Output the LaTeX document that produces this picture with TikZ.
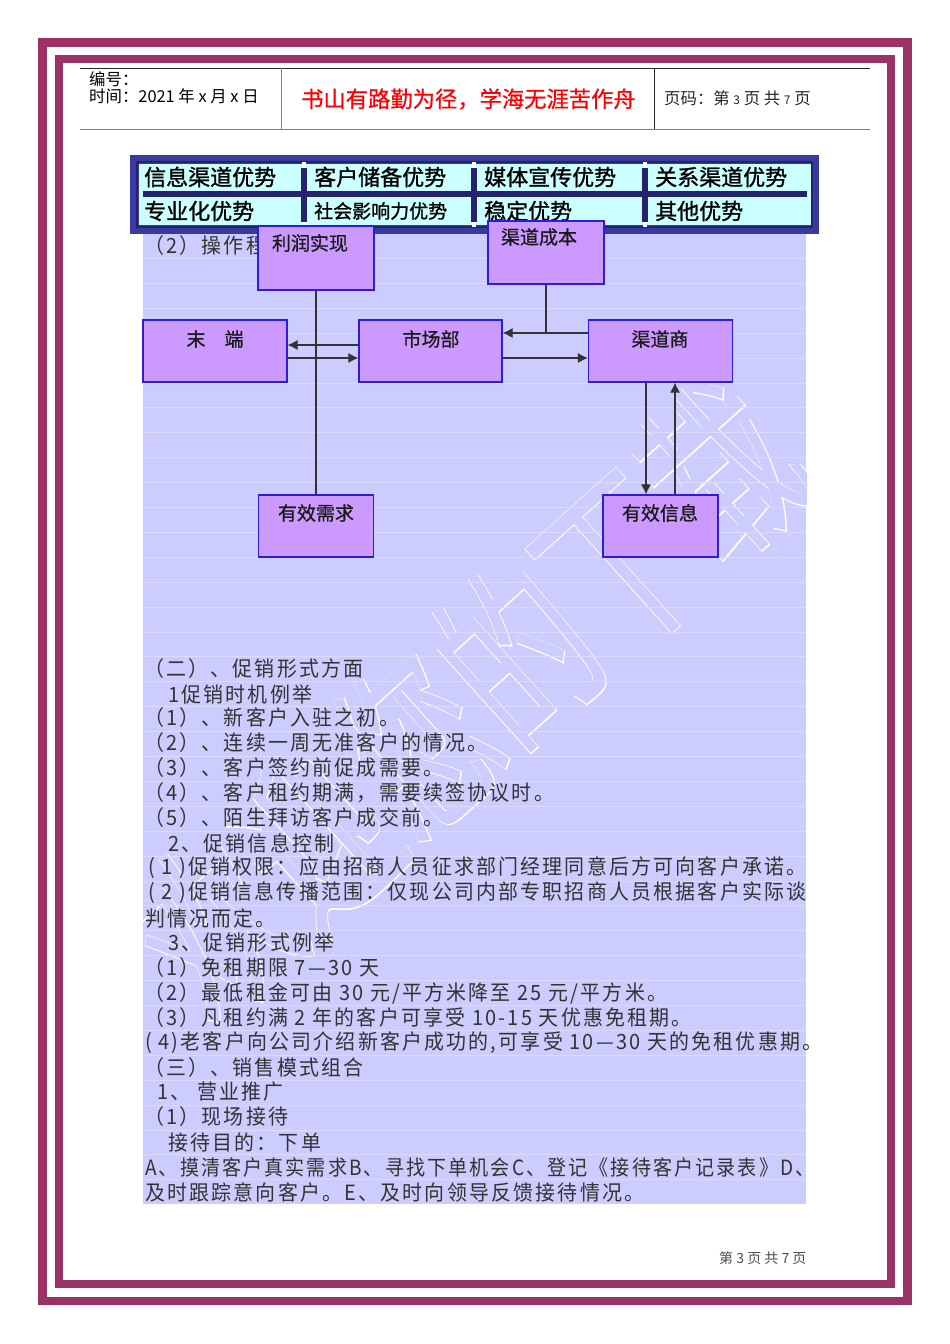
\documentclass[tikz,border=0pt]{standalone}
\usepackage{fontspec}
\setmainfont{Liberation Sans}
\newfontfamily\cjk{Noto Sans CJK SC}
\newfontfamily\cjkbody[FakeStretch=0.95,LetterSpace=10.5]{Noto Sans CJK SC}
\newfontfamily\cjkhead[FakeBold=1.2]{Noto Sans CJK SC}
\newfontfamily\cjklabel[FakeBold=0.6]{Noto Sans CJK SC}
\newfontfamily\cjkmark[FakeStretch=0.72]{Noto Sans CJK SC}
\newfontfamily\cjkmarkrim[FakeStretch=0.72,FakeBold=0.8]{Noto Sans CJK SC}
\usepackage{tikz}
\usetikzlibrary{arrows.meta, calc}
\definecolor{frameplum}{HTML}{993366}
\definecolor{pagelav}{HTML}{CCCCFF}
\definecolor{boxlilac}{HTML}{CC99FF}
\definecolor{boxblue}{HTML}{2A1FD8}
\definecolor{tablenavy}{HTML}{3A3A9E}
\definecolor{tabledark}{HTML}{24246E}
\definecolor{cellcyan}{HTML}{CCFFFF}
\tikzstyle{flowbox} = [rectangle, draw=boxblue, fill=boxlilac, line width=1.2pt, inner sep=0pt]
\tikzstyle{boxlabel} = [font=\cjklabel\fontsize{19}{19}\selectfont, text=black!90]
\tikzstyle{bodyline} = [anchor=west, inner sep=0pt, font=\cjkbody\fontsize{21}{21}\selectfont, text=black!80]
\tikzstyle{headcell} = [anchor=west, inner sep=0pt, font=\cjkhead\fontsize{22}{22}\selectfont]
\tikzstyle{flowline} = [draw=black!80, line width=1.1pt]
\tikzstyle{flowarrow} = [flowline, -{Latex[length=10pt,width=10pt]}]
\newcommand{\pagedigit}[1]{{\fontsize{12}{12}\selectfont #1}}
\begin{document}
\begin{tikzpicture}[x=1pt, y=-1pt]
\useasboundingbox (0,0) rectangle (950,1344);
% double frame
\draw[frameplum, line width=8.5pt] (42.5,42.5) rectangle (907.5,1301);
\draw[frameplum, line width=8.5pt] (59,59) rectangle (891,1284);
% header
\draw[black!85] (80,68) -- (870,68);
\draw[black!50, line width=1pt] (80,129) -- (870,129);
\draw[black!50] (281,68) -- (281,129);
\draw[black!85] (654,68) -- (654,129);
\node[anchor=west, inner sep=0pt, font=\cjk\fontsize{16.4}{16.4}\selectfont] (docno) at (89,79) {编号：};
\node[anchor=west, inner sep=0pt, font=\cjk\fontsize{16.4}{16.4}\selectfont] (doctime) at (89,96) {时间：2021 年 x 月 x 日};
\node[anchor=west, inner sep=0pt, text=red, font=\cjklabel\fontsize{22.3}{22.3}\selectfont] (motto) at (301,99) {书山有路勤为径，学海无涯苦作舟};
\node[anchor=west, inner sep=0pt, font=\cjk\fontsize{16.4}{16.4}\selectfont, text=black!85] (pageno) at (664,98) {页码：第 \pagedigit{3} 页 共 \pagedigit{7} 页};
\node[anchor=west, inner sep=0pt, font=\cjk\fontsize{14}{14}\selectfont, text=black!70] (footer) at (719,1258) {第 3 页 共 7 页};
% lavender page
\fill[pagelav] (143,234) rectangle (806,1204);
\begin{scope}
\clip (143,234) rectangle (806,1204);
\node[rotate=42, inner sep=0pt, text=white, font=\cjkmarkrim\fontsize{190}{190}\selectfont] (markrim) at (467,700) {欢迎您的下载};
\node[rotate=42, inner sep=0pt, text=pagelav, font=\cjkmark\fontsize{190}{190}\selectfont] (markface) at (467,700) {欢迎您的下载};
\end{scope}
\foreach \k in {0,...,37}
  \draw[white!30!pagelav, line width=0.5pt] (143,258.3+24.9*\k) -- (806,258.3+24.9*\k);
% table
\fill[tablenavy] (130,155) rectangle (819,234);
\draw[tabledark, line width=1.5pt] (137,162) rectangle (812,227);
\fill[cellcyan] (139,164) rectangle (811,225);
\draw[tabledark, line width=5.5pt] (143,194) -- (807,194);
\foreach \x in {304,474,645} {
  \draw[tabledark, line width=5.5pt] (\x,168) -- (\x,222);
  \fill[white] (\x-2,162) rectangle (\x+2,168);
  \fill[white] (\x-2,222) rectangle (\x+2,227);
}
\foreach \x/\y/\t in {144/177/信息渠道优势, 314/177/客户储备优势, 484/177/媒体宣传优势, 655/177/关系渠道优势,
                      144/211/专业化优势, 484/211/稳定优势, 655/211/其他优势}
  \node[headcell] at (\x,\y) {\t};
\node[headcell, font=\cjkhead\fontsize{19}{19}\selectfont] at (314,211) {社会影响力优势};
% body text
\foreach \x/\y/\t in {
  144/246/{（2）操作程},
  144/669/{（二）、促销形式方面},
  168/694/{1促销时机例举},
  144/718/{（1）、新客户入驻之初。},
  144/743/{（2）、连续一周无准客户的情况。},
  144/768/{（3）、客户签约前促成需要。},
  144/793/{（4）、客户租约期满，需要续签协议时。},
  144/818/{（5）、陌生拜访客户成交前。},
  168/843/{2、促销信息控制},
  148/868/{( 1 )促销权限：应由招商人员征求部门经理同意后方可向客户承诺。},
  148/893/{( 2 )促销信息传播范围：仅现公司内部专职招商人员根据客户实际谈},
  145/918/{判情况而定。},
  168/943/{3、促销形式例举},
  144/968/{（1）免租期限 7—30 天},
  144/993/{（2）最低租金可由 30 元/平方米降至 25 元/平方米。},
  144/1018/{（3）凡租约满 2 年的客户可享受 10-15 天优惠免租期。},
  145/1043/{( 4)老客户向公司介绍新客户成功的,可享受 10—30 天的免租优惠期。},
  144/1068/{（三）、销售模式组合},
  157/1092/{1、 营业推广},
  144/1117/{（1）现场接待},
  168/1142/{接待目的：下单},
  145/1167/{\scalebox{0.955}[1]{A、摸清客户真实需求B、寻找下单机会C、登记《接待客户记录表》D、}},
  145/1192/{及时跟踪意向客户。E、及时向领导反馈接待情况。}}
  \node[bodyline] at (\x,\y) {\t};
% flow boxes
\node[flowbox, minimum width=116pt, minimum height=64pt] (profit) at (316,258) {};
\node[flowbox, minimum width=116pt, minimum height=63pt] (cost) at (546,252.5) {};
\node[flowbox, minimum width=144pt, minimum height=62pt] (terminal) at (215,351) {};
\node[flowbox, minimum width=143pt, minimum height=62pt] (market) at (430.5,351) {};
\node[flowbox, minimum width=144pt, minimum height=62pt] (dealer) at (660.5,351) {};
\node[flowbox, minimum width=115pt, minimum height=62pt] (demand) at (316,526) {};
\node[flowbox, minimum width=115pt, minimum height=62pt] (info) at (660.5,526) {};
\node[boxlabel] (profittext) at (310,243) {利润实现};
\node[boxlabel] (costtext) at (539,237) {渠道成本};
\node[boxlabel] (terminaltext) at (215,339) {末\quad 端};
\node[boxlabel] (markettext) at (431,339) {市场部};
\node[boxlabel] (dealertext) at (660,339) {渠道商};
\node[boxlabel] (demandtext) at (316,513) {有效需求};
\node[boxlabel] (infotext) at (660,513) {有效信息};
% connectors
\coordinate (costjoin) at (cost.south |- 0,333);
\draw[flowline] (profit) -- (demand);
\draw[flowline] (cost.south) -- (costjoin);
\draw[flowarrow] ([yshift=18pt]dealer.west) -- ([yshift=18pt]market.east);
\draw[flowarrow] ([yshift=-7pt]market.east) -- ([yshift=-7pt]dealer.west);
\draw[flowarrow] ([yshift=6pt]market.west) -- ([yshift=6pt]terminal.east);
\draw[flowarrow] ([yshift=-7pt]terminal.east) -- ([yshift=-7pt]market.west);
\draw[flowarrow] ([xshift=-14.5pt]dealer.south) -- ([xshift=-14.5pt]info.north);
\draw[flowarrow] ([xshift=14.5pt]info.north) -- ([xshift=14.5pt]dealer.south);
\end{tikzpicture}
\end{document}
